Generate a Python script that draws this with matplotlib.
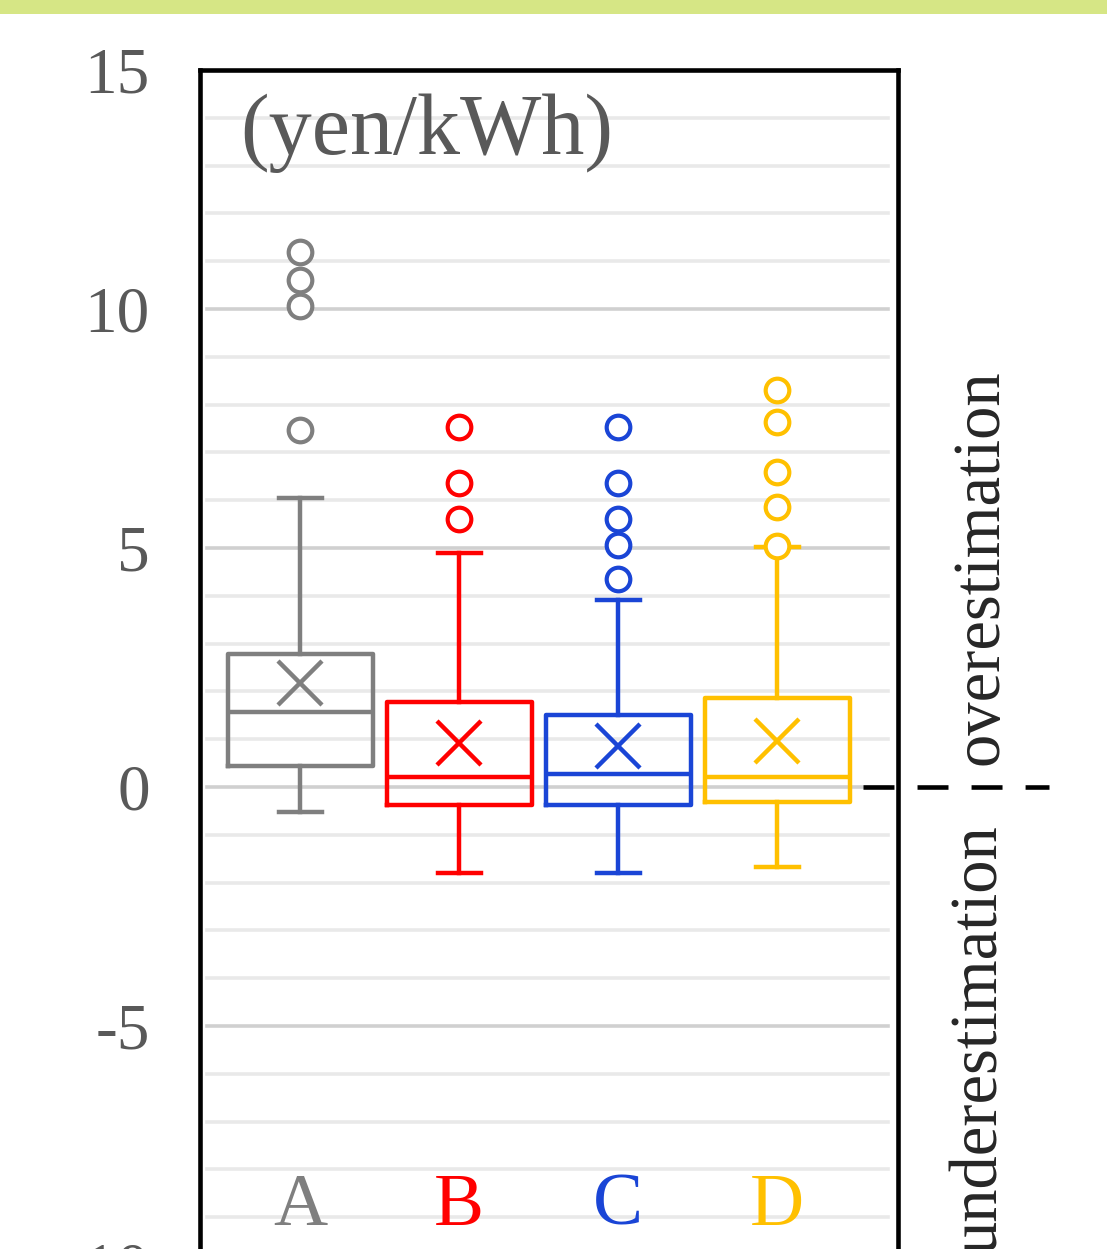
import matplotlib
matplotlib.use("Agg")
import matplotlib.pyplot as plt
from matplotlib.patches import Rectangle

# values (yen/kWh)
categories = ["A", "B", "C", "D"]
colors = ["#7f7f7f", "#ff0000", "#1a45d6", "#ffc000"]
whis_lo = [-0.52, -1.80, -1.80, -1.67]
q1 = [0.44, -0.38, -0.38, -0.31]
medians = [1.57, 0.21, 0.28, 0.21]
q3 = [2.79, 1.78, 1.50, 1.86]
whis_hi = [6.04, 4.90, 3.92, 5.03]
means = [2.18, 0.92, 0.85, 0.97]
fliers = [
    [7.46, 10.06, 10.6, 11.2],
    [5.6, 6.37, 7.53],
    [4.36, 5.07, 5.6, 6.37, 7.53],
    [5.05, 5.85, 6.6, 7.63, 8.3],
]
yticks = [-10, -5, 0, 5, 10, 15]

serif = ["Liberation Serif", "DejaVu Serif"]
label_grey = "#595959"

fig = plt.figure(figsize=(11.07, 12.49), dpi=100)

# green strip at the top
fig.patches.append(Rectangle((0, 1 - 14 / 1249), 1, 14 / 1249, transform=fig.transFigure,
                             facecolor="#d6e685", edgecolor="none"))

ax = fig.add_axes([200 / 1107, -16 / 1249, 698 / 1107, 1195 / 1249])
ax.set_xlim(0.37, 4.76)
ax.set_ylim(-10, 15)

# grid, one line per unit, darker every 5
for v in range(-9, 15):
    major = v % 5 == 0
    ax.axhline(v, xmin=0.01, xmax=0.985, color="#d0d0d0" if major else "#e9e9e9",
               lw=2.6, zorder=0)

positions = list(range(1, len(categories) + 1))
for i, c in enumerate(colors):
    stats = [dict(whislo=whis_lo[i], q1=q1[i], med=medians[i], q3=q3[i],
                  whishi=whis_hi[i], mean=means[i], fliers=fliers[i])]
    lw = 3.2
    ax.bxp(stats, positions=[positions[i]], widths=0.91, capwidths=0.27,
           showmeans=True, meanline=False, manage_ticks=False,
           boxprops=dict(color=c, lw=lw),
           medianprops=dict(color=c, lw=lw),
           whiskerprops=dict(color=c, lw=lw),
           capprops=dict(color=c, lw=lw),
           meanprops=dict(marker="x", markersize=32, markeredgecolor=c, markeredgewidth=3.2),
           flierprops=dict(marker="o", markersize=17, markerfacecolor="white",
                           markeredgecolor=c, markeredgewidth=3))
    ax.text(positions[i], -9.16, categories[i], color=c, fontsize=54, family=serif,
            ha="center", va="baseline")

ax.set_xticks([])
ax.set_yticks(yticks)
ax.set_yticklabels([str(t) for t in yticks], fontsize=47, family=serif, color=label_grey)
ax.tick_params(axis="y", length=0, pad=36)
for s in ax.spines.values():
    s.set_linewidth(3.3)
    s.set_color("black")

ax.text(0.057, 13.25, "(yen/kWh)", transform=ax.get_yaxis_transform(), fontsize=62,
        family=serif, color=label_grey, va="baseline", ha="left")

# zero reference line running out to the right of the frame
ax.plot([(863 - 200) / 698, (1049 - 200) / 698], [0, 0], transform=ax.get_yaxis_transform(),
        color="black", lw=3.3, linestyle=(0, (22.3 / 3.3, 16.6 / 3.3)), clip_on=False,
        solid_capstyle="butt", dash_capstyle="butt")

fig.text(997 / 1107, 1 - 765 / 1249, "overestimation", rotation=90, rotation_mode="anchor",
         ha="left", va="baseline", fontsize=48, family=serif, color="#262626")
fig.text(997 / 1107, 1 - 825 / 1249, "underestimation", rotation=90, rotation_mode="anchor",
         ha="right", va="baseline", fontsize=48, family=serif, color="#262626")

fig.savefig("out.png", dpi=100)
